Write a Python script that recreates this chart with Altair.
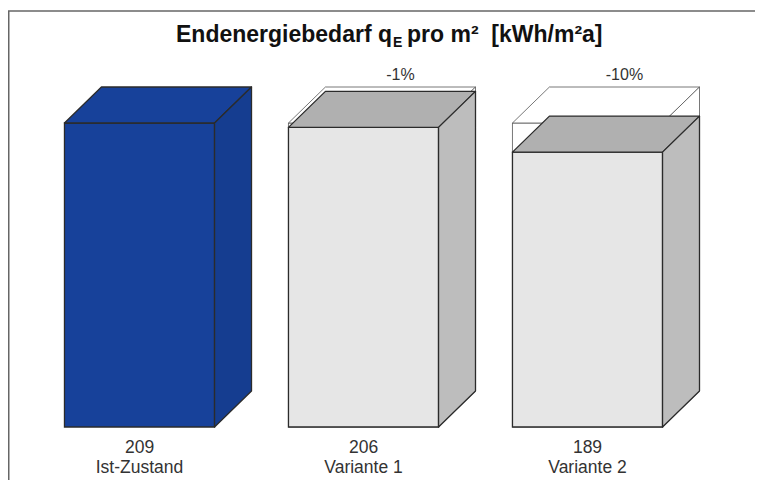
import altair as alt
import pandas as pd

# ---- data ----
categories = ["Ist-Zustand", "Variante 1", "Variante 2"]
values = [209, 206, 189]
changes = ["", "-1%", "-10%"]
reference = 209  # Ist-Zustand, drawn as an outline behind the variants

# ---- styles ----
front_colors = ["#17419a", "#e6e6e6", "#e6e6e6"]
top_colors = ["#17419a", "#b0b0b0", "#b0b0b0"]
side_colors = ["#153d90", "#bdbdbd", "#bdbdbd"]
edge = "#2b2b2b"
FONT = "Liberation Sans, Arial"

HALF = 0.335   # half bar width in category units
DX = 0.165     # depth offset in category units
DY = 24.75     # depth offset in value units

W, H = 747, 472

idx = list(range(len(categories)))

front = pd.DataFrame({"cat": categories, "i": idx, "v": values})
front["x0"] = front["i"] - HALF
front["x1"] = front["i"] + HALF
front["base"] = 0

top_rows, side_rows = [], []
for c, i, v in zip(categories, idx, values):
    for k in (0, 1):
        top_rows.append({"cat": c, "y": v + k * DY,
                         "xa": i - HALF + k * DX, "xb": i + HALF + k * DX})
        side_rows.append({"cat": c, "x": i + HALF + k * DX,
                          "ytop": v + k * DY, "ybot": k * DY})
top = pd.DataFrame(top_rows)
side = pd.DataFrame(side_rows)

# ghost outline of the reference for the variants
ghost_cats = [c for c, v in zip(categories, values) if v < reference]
ghost_front = front[front["cat"].isin(ghost_cats)].copy()
ghost_front["v"] = reference
g_top_rows, g_side_rows = [], []
for c, i, v in zip(categories, idx, values):
    if c not in ghost_cats:
        continue
    for k in (0, 1):
        g_top_rows.append({"cat": c, "y": reference + k * DY,
                           "xa": i - HALF + k * DX, "xb": i + HALF + k * DX})
        g_side_rows.append({"cat": c, "x": i + HALF + k * DX,
                            "ytop": reference + k * DY, "ybot": k * DY})
g_top = pd.DataFrame(g_top_rows)
g_side = pd.DataFrame(g_side_rows)

labels = pd.DataFrame({"cat": categories, "i": idx, "v": values, "chg": changes})
labels["vt"] = labels["v"].astype(str)
labels["ic"] = labels["i"] + DX

xs = alt.Scale(domain=[-0.5871, (W - 131.5) / 224], nice=False, zero=False)
ys = alt.Scale(domain=[-36.44, 288.07], nice=False, zero=False)

def fill_scale(colors):
    return alt.Scale(domain=categories, range=colors)

# ghost layers
g_front_l = alt.Chart(ghost_front).mark_rect(fill=None, stroke="#555", strokeWidth=0.8).encode(
    x=alt.X("x0:Q", scale=xs, axis=None), x2="x1:Q",
    y=alt.Y("base:Q", scale=ys, axis=None), y2="v:Q")
g_top_l = alt.Chart(g_top).mark_area(orient="horizontal", fill="white", stroke="#555",
                                      strokeWidth=0.8).encode(
    y=alt.Y("y:Q", scale=ys, axis=None), x=alt.X("xa:Q", scale=xs, axis=None), x2="xb:Q",
    detail="cat:N")
g_side_l = alt.Chart(g_side).mark_area(orient="vertical", fill="white", stroke="#555",
                                        strokeWidth=0.8).encode(
    x=alt.X("x:Q", scale=xs, axis=None), y=alt.Y("ytop:Q", scale=ys, axis=None), y2="ybot:Q",
    detail="cat:N")

# solid bars
front_l = alt.Chart(front).mark_rect(stroke=edge, strokeWidth=1.3).encode(
    x=alt.X("x0:Q", scale=xs, axis=None), x2="x1:Q",
    y=alt.Y("base:Q", scale=ys, axis=None), y2="v:Q",
    fill=alt.Fill("cat:N", scale=fill_scale(front_colors), legend=None))
top_l = alt.Chart(top).mark_area(orient="horizontal", stroke=edge, strokeWidth=1.3,
                                 strokeJoin="round").encode(
    y=alt.Y("y:Q", scale=ys, axis=None), x=alt.X("xa:Q", scale=xs, axis=None), x2="xb:Q",
    fill=alt.Fill("cat:N", scale=fill_scale(top_colors), legend=None), detail="cat:N")
side_l = alt.Chart(side).mark_area(orient="vertical", stroke=edge, strokeWidth=1.3,
                                   strokeJoin="round").encode(
    x=alt.X("x:Q", scale=xs, axis=None), y=alt.Y("ytop:Q", scale=ys, axis=None), y2="ybot:Q",
    fill=alt.Fill("cat:N", scale=fill_scale(side_colors), legend=None), detail="cat:N")

# text
val_l = alt.Chart(labels).mark_text(font=FONT, fontSize=17.5, color="#333", baseline="middle").encode(
    x=alt.X("i:Q", scale=xs, axis=None), y=alt.value(440), text="vt:N")
cat_l = alt.Chart(labels).mark_text(font=FONT, fontSize=17.5, color="#333", baseline="middle").encode(
    x=alt.X("i:Q", scale=xs, axis=None), y=alt.value(460), text="cat:N")
chg_l = alt.Chart(labels).mark_text(font=FONT, fontSize=16, color="#333", baseline="middle").encode(
    x=alt.X("ic:Q", scale=xs, axis=None), y=alt.value(67), text="chg:N")

title_df = pd.DataFrame({"a": ["Endenergiebedarf q"], "b": ["E"],
                         "c": ["pro m²\u00a0\u00a0[kWh/m²a]"]})
t1 = alt.Chart(title_df).mark_text(font=FONT, fontSize=23, fontWeight="bold", color="#111",
                                   align="right", baseline="middle").encode(
    x=alt.value(384), y=alt.value(27), text="a:N")
t2 = alt.Chart(title_df).mark_text(font=FONT, fontSize=14, fontWeight="bold", color="#111",
                                   align="left", baseline="middle").encode(
    x=alt.value(385), y=alt.value(35), text="b:N")
t3 = alt.Chart(title_df).mark_text(font=FONT, fontSize=23, fontWeight="bold", color="#111",
                                   align="left", baseline="middle").encode(
    x=alt.value(399), y=alt.value(27), text="c:N")

# frame: only top and left edges lie inside the picture
frame_top = alt.Chart(title_df).mark_rule(color="#666", strokeWidth=1.5).encode(
    x=alt.value(0), x2=alt.value(W), y=alt.value(3), y2=alt.value(3))
frame_left = alt.Chart(title_df).mark_rule(color="#666", strokeWidth=1.5).encode(
    x=alt.value(0.75), x2=alt.value(0.75), y=alt.value(3), y2=alt.value(H))

chart = alt.layer(
    frame_top, frame_left,
    g_front_l, g_top_l, g_side_l,
    front_l, top_l, side_l,
    val_l, cat_l, chg_l, t1, t2, t3,
).resolve_scale(fill="independent").properties(
    width=W, height=H, padding=0, autosize="none"
).configure_view(stroke=None, strokeWidth=0)

chart.save("out.html", embed_options={"renderer": "svg", "actions": False})
